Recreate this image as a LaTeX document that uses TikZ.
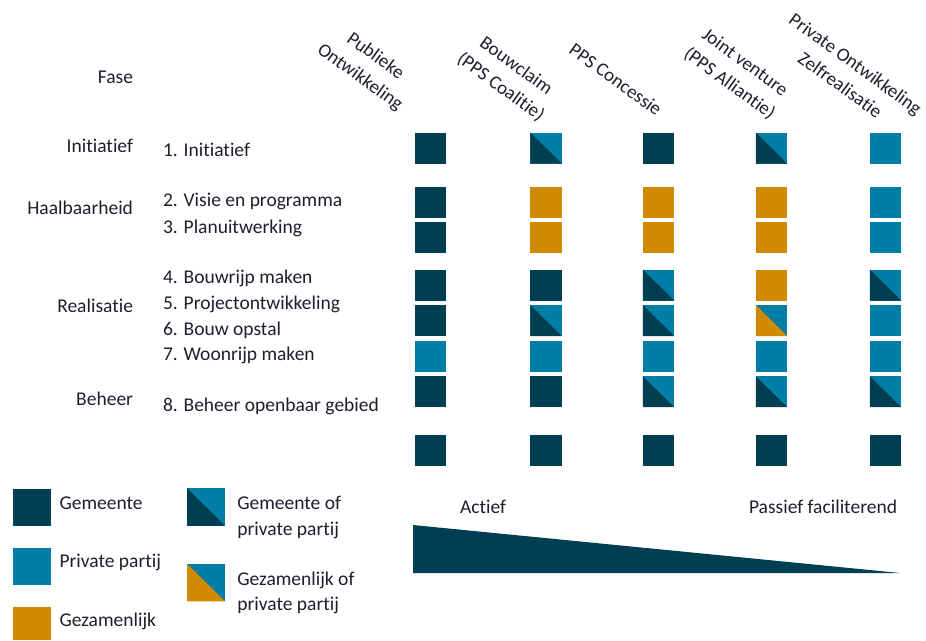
\documentclass[tikz,border=0pt]{standalone}
\usepackage{fontspec}
\setmainfont{Carlito}[Ligatures={NoCommon,NoRare,NoContextual}]
\definecolor{cD}{RGB}{0,63,82}
\definecolor{cB}{RGB}{0,126,166}
\definecolor{cO}{RGB}{208,138,0}
\definecolor{txt}{RGB}{30,30,45}
\begin{document}
\begin{tikzpicture}[x=1pt,y=-1pt,
  every node/.style={inner sep=0pt, outer sep=0pt, text=txt, font=\fontsize{19.5}{25.7}\selectfont},
  sq/.style={rectangle, minimum width=31.5pt, minimum height=31pt, draw=none},
  lsq/.style={rectangle, minimum width=38pt, minimum height=37.5pt, draw=none},
  fD/.style={fill=cD},
  fB/.style={fill=cB},
  fO/.style={fill=cO},
  fDB/.style={fill=cB, path picture={\fill[cD] (path picture bounding box.north west) -- (path picture bounding box.south west) -- (path picture bounding box.south east) -- cycle;}},
  fOB/.style={fill=cB, path picture={\fill[cO] (path picture bounding box.north west) -- (path picture bounding box.south west) -- (path picture bounding box.south east) -- cycle;}},
  lbl/.style={anchor=base west},
  phase/.style={anchor=base east},
  hdr/.style={rotate=-36, align=center, font=\fontsize{19}{26}\selectfont}
]
\useasboundingbox (0,0) rectangle (926,640);

% headers
\node[hdr] (h1) at (367.5,67) {Publieke\\Ontwikkeling};
\node[hdr] (h2) at (508.3,76.8) {Bouwclaim\\(PPS Coalitie)};
\node[hdr] (h3) at (615.7,79.3) {PPS Concessie};
\node[hdr] (h4) at (737,73.3) {Joint venture\\(PPS Alliantie)};
\node[hdr] (h5) at (848,74.2) {Private Ontwikkeling\\Zelfrealisatie};

% phase labels
\node[phase] (fase) at (133,83.3) {Fase};
\node[phase] (pinit) at (133,152.7) {Initiatief};
\node[phase] (phaal) at (133,214.3) {Haalbaarheid};
\node[phase] (preal) at (133,312.7) {Realisatie};
\node[phase] (pbeh) at (133,405.7) {Beheer};

% step labels
\node[lbl] (s1) at (163,156) {1. Initiatief};
\node[lbl] (s2) at (163,206.7) {2. Visie en programma};
\node[lbl] (s3) at (163,233.3) {3. Planuitwerking};
\node[lbl] (s4) at (163,283.3) {4. Bouwrijp maken};
\node[lbl] (s5) at (163,309.3) {5. Projectontwikkeling};
\node[lbl] (s6) at (163,335) {6. Bouw opstal};
\node[lbl] (s7) at (163,360.7) {7. Woonrijp maken};
\node[lbl] (s8) at (163,411) {8. Beheer openbaar gebied};

% grid of squares
\foreach \r/\y/\a/\b/\c/\d/\e in {
  1/148/fD/fDB/fD/fDB/fB,
  2/202.2/fD/fO/fO/fO/fB,
  3/237.8/fD/fO/fO/fO/fB,
  4/285/fD/fD/fDB/fO/fDB,
  5/320.5/fD/fDB/fDB/fOB/fB,
  6/356.2/fB/fB/fB/fB/fB,
  7/391.7/fD/fD/fDB/fDB/fDB,
  8/450.9/fD/fD/fD/fD/fD}{
  \node[sq,\a] (q\r-1) at (430.5,\y) {};
  \node[sq,\b] (q\r-2) at (546,\y) {};
  \node[sq,\c] (q\r-3) at (658.5,\y) {};
  \node[sq,\d] (q\r-4) at (771.5,\y) {};
  \node[sq,\e] (q\r-5) at (885.5,\y) {};
}

% legend
\node[lsq,fD] (lg1) at (32,507.5) {};
\node[lsq,fB] (lg2) at (32,566.5) {};
\fill[cO] (13,607) rectangle (51,640);
\node[lsq,fDB] (lg4) at (206,507) {};
\node[lsq,fOB] (lg5) at (206,582.5) {};
\node[lbl] (t1) at (59.5,509.3) {Gemeente};
\node[lbl] (t2) at (59.5,567.3) {Private partij};
\node[lbl] (t3) at (59.5,626.7) {Gezamenlijk};
\node[lbl] (t4a) at (237.3,509.3) {Gemeente of};
\node[lbl] (t4b) at (237.3,535) {private partij};
\node[lbl] (t5a) at (237.3,585) {Gezamenlijk of};
\node[lbl] (t5b) at (237.3,610.5) {private partij};

% wedge
\node[lbl] (act) at (460,513) {Actief};
\node[anchor=base east] (pas) at (897,513) {Passief faciliterend};
\fill[cD] (413,525) -- (413,573) -- (900,573) -- cycle;
\end{tikzpicture}
\end{document}
